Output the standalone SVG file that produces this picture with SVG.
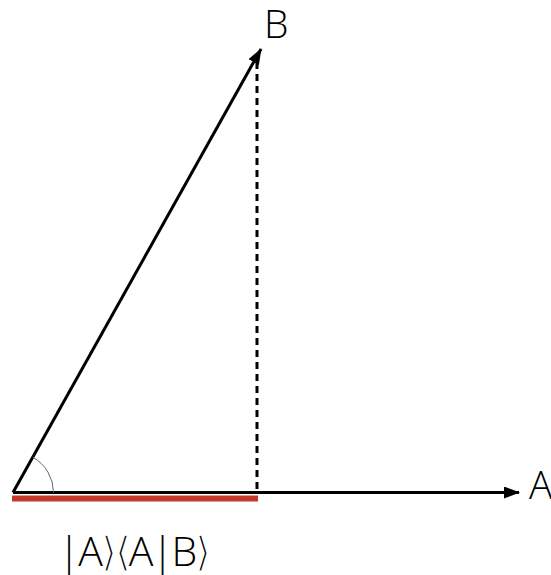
<svg xmlns="http://www.w3.org/2000/svg" width="551" height="575" viewBox="0 0 551 575">
<defs>
<style>
.vec{stroke:#000;stroke-width:3;fill:none}
.lbl{font-family:"Open Sans","Liberation Sans",sans-serif;font-weight:300;fill:#000}
.br{stroke:#fff;stroke-width:1.6}
</style>
<marker id="ah" markerWidth="16" markerHeight="12" refX="15" refY="6" orient="auto" markerUnits="userSpaceOnUse">
<path d="M0,0 L16,6 L0,12 Z" fill="#000"/>
</marker>
</defs>
<rect width="551" height="575" fill="#fff"/>
<g id="projection">
<rect x="12" y="495.5" width="246" height="6" fill="#c0392b"/>
</g>
<g id="connectors">
<line class="vec" x1="257" y1="62" x2="257" y2="492" stroke-dasharray="7 5"/>
<line class="vec" x1="13" y1="492.5" x2="519" y2="492.5" marker-end="url(#ah)"/>
<line class="vec" x1="13" y1="492.5" x2="261" y2="49" marker-end="url(#ah)"/>
<path d="M53.5,492.5 A40.5,40.5 0 0 0 32.8,457.2" fill="none" stroke="#5b6b7b" stroke-width="1"/>
</g>
<g id="label-B"><text class="lbl" x="264" y="38" font-size="39">B</text></g>
<g id="label-A"><text class="lbl" x="529" y="499" font-size="39">A</text></g>
<g id="label-proj"><text class="lbl" x="58" y="566" font-size="41" letter-spacing="-2">|A<tspan class="br">⟩⟨</tspan>A|B<tspan class="br">⟩</tspan></text></g>
</svg>
